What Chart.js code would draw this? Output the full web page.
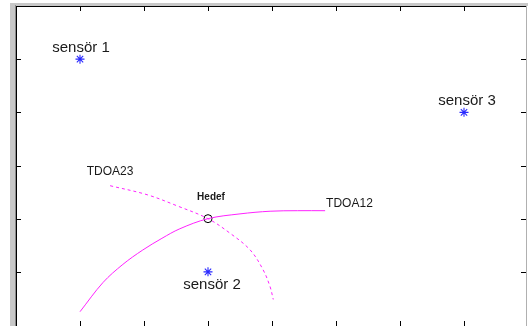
<!DOCTYPE html>
<html>
<head>
<meta charset="utf-8">
<script src="https://cdn.jsdelivr.net/npm/chart.js@4/dist/chart.umd.min.js"></script>
<style>
  html, body { margin: 0; padding: 0; background: #fff; }
  #wrap { width: 528px; height: 326px; }
</style>
</head>
<body>
<div id="wrap"><canvas id="c" width="528" height="326"></canvas></div>
<script>
// Sensor positions
const sensorNames = ['sensör 1', 'sensör 2', 'sensör 3'];
const sensorX = [1, 3, 7];
const sensorY = [5, 1, 4];

// Estimated target position (intersection of the two hyperbolas)
const targetName = 'Hedef';
const targetX = [3];
const targetY = [2];

// TDOA hyperbola branches
const tdoa12Name = 'TDOA12';
const tdoa12X = [1.0, 1.36, 1.67, 1.98, 2.28, 2.56, 3.0, 3.5, 3.97, 4.4, 4.83];
const tdoa12Y = [0.25, 0.80, 1.14, 1.41, 1.63, 1.81, 2.00, 2.09, 2.14, 2.15, 2.15];

const tdoa23Name = 'TDOA23';
const tdoa23X = [1.47, 2.05, 2.52, 3.0, 3.34, 3.66, 3.86, 3.97, 4.02];
const tdoa23Y = [2.62, 2.45, 2.24, 2.00, 1.73, 1.41, 1.04, 0.72, 0.48];

// Axis ticks (labels hidden)
const xTicks = [1, 2, 3, 4, 5, 6, 7];
const yTicks = [1, 2, 3, 4, 5];

const zip = (xs, ys) => xs.map((x, i) => ({ x, y: ys[i] }));

// Text annotations anchored to data points, with pixel offsets
const annotations = [
  { text: sensorNames[0], x: sensorX[0], y: sensorY[0], dx: 1, dy: -11, font: '15px "Liberation Sans", Arial, sans-serif', align: 'center' },
  { text: sensorNames[1], x: sensorX[1], y: sensorY[1], dx: 4, dy: 13, font: '15px "Liberation Sans", Arial, sans-serif', align: 'center' },
  { text: sensorNames[2], x: sensorX[2], y: sensorY[2], dx: 3, dy: -11, font: '15px "Liberation Sans", Arial, sans-serif', align: 'center' },
  { text: targetName, x: targetX[0], y: targetY[0], dx: 3, dy: -21, font: 'bold 10px "Liberation Sans", Arial, sans-serif', align: 'center' },
  { text: tdoa23Name, x: tdoa23X[0], y: tdoa23Y[0], dx: 0, dy: -14, font: '12px "Liberation Sans", Arial, sans-serif', align: 'center' },
  { text: tdoa12Name, x: tdoa12X[tdoa12X.length - 1], y: tdoa12Y[tdoa12Y.length - 1], dx: 1, dy: -7, font: '12px "Liberation Sans", Arial, sans-serif', align: 'left' }
];

// Axes frame with inward ticks and labels
const framePlugin = {
  id: 'frame',
  beforeDraw(chart) {
    const ctx = chart.ctx;
    ctx.save();
    ctx.fillStyle = '#fff';
    ctx.fillRect(0, 0, chart.width, chart.height);
    ctx.restore();
  },
  afterDatasetsDraw(chart) {
    const { ctx, chartArea: a, scales: { x, y } } = chart;
    ctx.save();
    // grey bevel on left/top
    ctx.fillStyle = '#c8c8c8';
    ctx.fillRect(a.left - 6, a.top - 3, 5, a.bottom - a.top + 10);
    ctx.fillRect(a.left - 6, a.top - 3, a.right - a.left + 6, 3);
    ctx.fillStyle = '#8a8a8a';
    ctx.fillRect(a.left - 1, a.top - 1, 1, a.bottom - a.top + 10);
    // axis lines
    ctx.strokeStyle = '#000';
    ctx.lineWidth = 1;
    ctx.beginPath();
    ctx.moveTo(a.left + 0.5, a.top + 0.5);
    ctx.lineTo(a.left + 0.5, a.bottom + 5);
    ctx.moveTo(a.left, a.top + 0.5);
    ctx.lineTo(a.right - 1, a.top + 0.5);
    ctx.stroke();
    ctx.strokeStyle = '#b0b0b0';
    ctx.beginPath();
    ctx.moveTo(a.right - 1.5, a.top);
    ctx.lineTo(a.right - 1.5, a.bottom + 5);
    ctx.stroke();
    // ticks
    ctx.strokeStyle = '#000';
    ctx.beginPath();
    const len = 5;
    xTicks.forEach(v => {
      const px = Math.round(x.getPixelForValue(v)) + 0.5;
      ctx.moveTo(px, a.top); ctx.lineTo(px, a.top + len);
      ctx.moveTo(px, a.bottom + 1); ctx.lineTo(px, a.bottom + 1 - len);
    });
    yTicks.forEach(v => {
      const py = Math.round(y.getPixelForValue(v)) + 0.5;
      ctx.moveTo(a.left, py); ctx.lineTo(a.left + len, py);
      ctx.moveTo(a.right - 2, py); ctx.lineTo(a.right - 2 - len, py);
    });
    ctx.stroke();
    // text annotations
    ctx.fillStyle = '#1a1a1a';
    ctx.textBaseline = 'middle';
    annotations.forEach(t => {
      ctx.font = t.font;
      ctx.textAlign = t.align;
      ctx.fillText(t.text, x.getPixelForValue(t.x) + t.dx, y.getPixelForValue(t.y) + t.dy);
    });
    ctx.restore();
  }
};

new Chart(document.getElementById('c'), {
  type: 'scatter',
  data: {
    datasets: [
      {
        label: tdoa12Name,
        data: zip(tdoa12X, tdoa12Y),
        showLine: true,
        borderColor: '#ff22ff',
        borderWidth: 1,
        pointRadius: 0,
        tension: 0.35
      },
      {
        label: tdoa23Name,
        data: zip(tdoa23X, tdoa23Y),
        showLine: true,
        borderColor: '#ff22ff',
        borderWidth: 1,
        borderDash: [3, 3],
        pointRadius: 0,
        tension: 0.35
      },
      {
        label: 'Sensörler',
        data: zip(sensorX, sensorY),
        pointStyle: 'star',
        pointRadius: 4.5,
        borderColor: '#2a2aff',
        backgroundColor: '#2a2aff',
        borderWidth: 1.1
      },
      {
        label: targetName,
        data: zip(targetX, targetY),
        pointStyle: 'circle',
        pointRadius: 4,
        borderColor: '#000',
        backgroundColor: 'rgba(0,0,0,0)',
        borderWidth: 1
      }
    ]
  },
  options: {
    responsive: false,
    animation: false,
    layout: { autoPadding: false, padding: { left: 16, top: 6, right: 0, bottom: 1 } },
    plugins: { legend: { display: false }, tooltip: { enabled: false } },
    scales: {
      x: { type: 'linear', min: 0, max: 8, display: false },
      y: { type: 'linear', min: 0, max: 6, display: false }
    }
  },
  plugins: [framePlugin]
});
</script>
</body>
</html>
